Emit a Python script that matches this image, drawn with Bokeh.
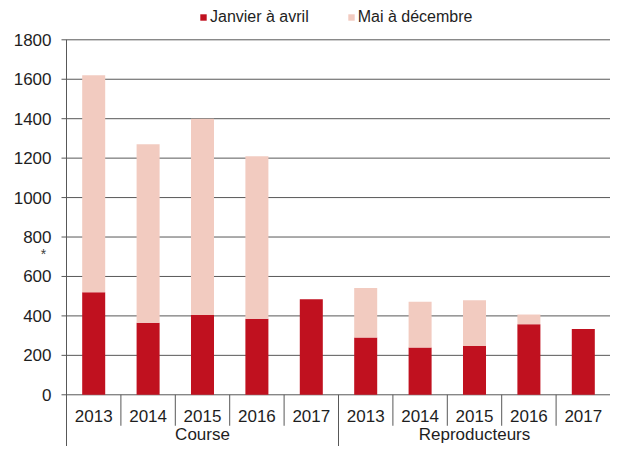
import numpy as np
from bokeh.plotting import figure
from bokeh.models import ColumnDataSource, Range1d, Legend, LegendItem
from bokeh.core.properties import value
from bokeh.embed import file_html
from bokeh.resources import INLINE

# ---- data ----
groups = ["Course", "Reproducteurs"]
years = ["2013", "2014", "2015", "2016", "2017"]
course_jan_avr = [520, 365, 405, 385, 485]
course_mai_dec = [1100, 905, 995, 825, 0]
repro_jan_avr = [291, 240, 247, 358, 333]
repro_mai_dec = [250, 232, 233, 49, 0]
y_ticks = [0, 200, 400, 600, 800, 1000, 1200, 1400, 1600, 1800]
y_tick_labels = [str(t) for t in y_ticks]
series_labels = ["Janvier à avril", "Mai à décembre"]
colors = ["#C0111F", "#F2CBC0"]

FONT = "Liberation Sans"
TXT = "#1e1e1e"
GRID = "#585858"

W, H = 610, 446
LEFT = 66                      # pixel position of the value axis
n_years = len(years)
n = len(groups) * n_years
CW = (W - LEFT) / n            # pixels per category
x_start = -LEFT / CW
tick_len = 5 / CW

xpos = np.arange(n) + 0.5
src = ColumnDataSource(dict(
    x=xpos,
    jan=course_jan_avr + repro_jan_avr,
    mai=course_mai_dec + repro_mai_dec,
    year=years * len(groups),
))
gsrc = ColumnDataSource(dict(
    x=[xpos[i * n_years:(i + 1) * n_years].mean() for i in range(len(groups))],
    name=groups,
))
tsrc = ColumnDataSource(dict(y=y_ticks, label=y_tick_labels))

y_bottom = -262.2
p = figure(width=W, height=H,
           x_range=Range1d(x_start, n), y_range=Range1d(y_bottom, 1999.3),
           output_backend="svg", toolbar_location=None,
           x_axis_location=None, y_axis_location=None,
           min_border_left=0, min_border_right=0, min_border_top=0, min_border_bottom=0)
p.outline_line_color = None
p.grid.visible = False

# horizontal gridlines (with outward tick) and value axis line
p.segment(x0=-tick_len, y0="y", x1=n, y1="y", source=tsrc, line_color=GRID, line_width=1)
p.segment(x0=[0], y0=[y_bottom], x1=[0], y1=[y_ticks[-1]], line_color=GRID, line_width=1)
p.text(x=0, y="y", text="label", source=tsrc, x_offset=-15, text_font=value(FONT),
       text_font_size="17px", text_color=TXT, text_align="right", text_baseline="middle")
p.text(x=[0], y=[712], text=["*"], x_offset=-23, text_font=value(FONT), text_font_size="14px",
       text_color="#404040", text_align="center", text_baseline="middle")

rs = p.vbar_stack(["jan", "mai"], x="x", width=0.423, color=colors, line_color=None, source=src)

# category separators under the axis
bounds = np.arange(1, n)
y1 = [y_bottom if b % n_years == 0 else -157 for b in bounds]
p.segment(x0=bounds, y0=0, x1=bounds, y1=y1, line_color=GRID, line_width=1)

p.text(x="x", y=-109, text="year", source=src, text_font=value(FONT), text_font_size="17px",
       text_color=TXT, text_align="center", text_baseline="middle")
p.text(x="x", y=-201, text="name", source=gsrc, text_font=value(FONT), text_font_size="17px",
       text_color=TXT, text_align="center", text_baseline="middle")

legend = Legend(items=[LegendItem(label=series_labels[i], renderers=[rs[i]]) for i in range(2)],
                location=(199, 420), orientation="horizontal",
                glyph_width=8, glyph_height=8, label_standoff=3, spacing=38,
                padding=0, margin=0, border_line_color=None, background_fill_alpha=0,
                label_text_font=FONT, label_text_font_size="16px", label_text_color=TXT,
                label_height=18)
p.add_layout(legend)

open("out.html", "w").write(file_html(p, INLINE))
